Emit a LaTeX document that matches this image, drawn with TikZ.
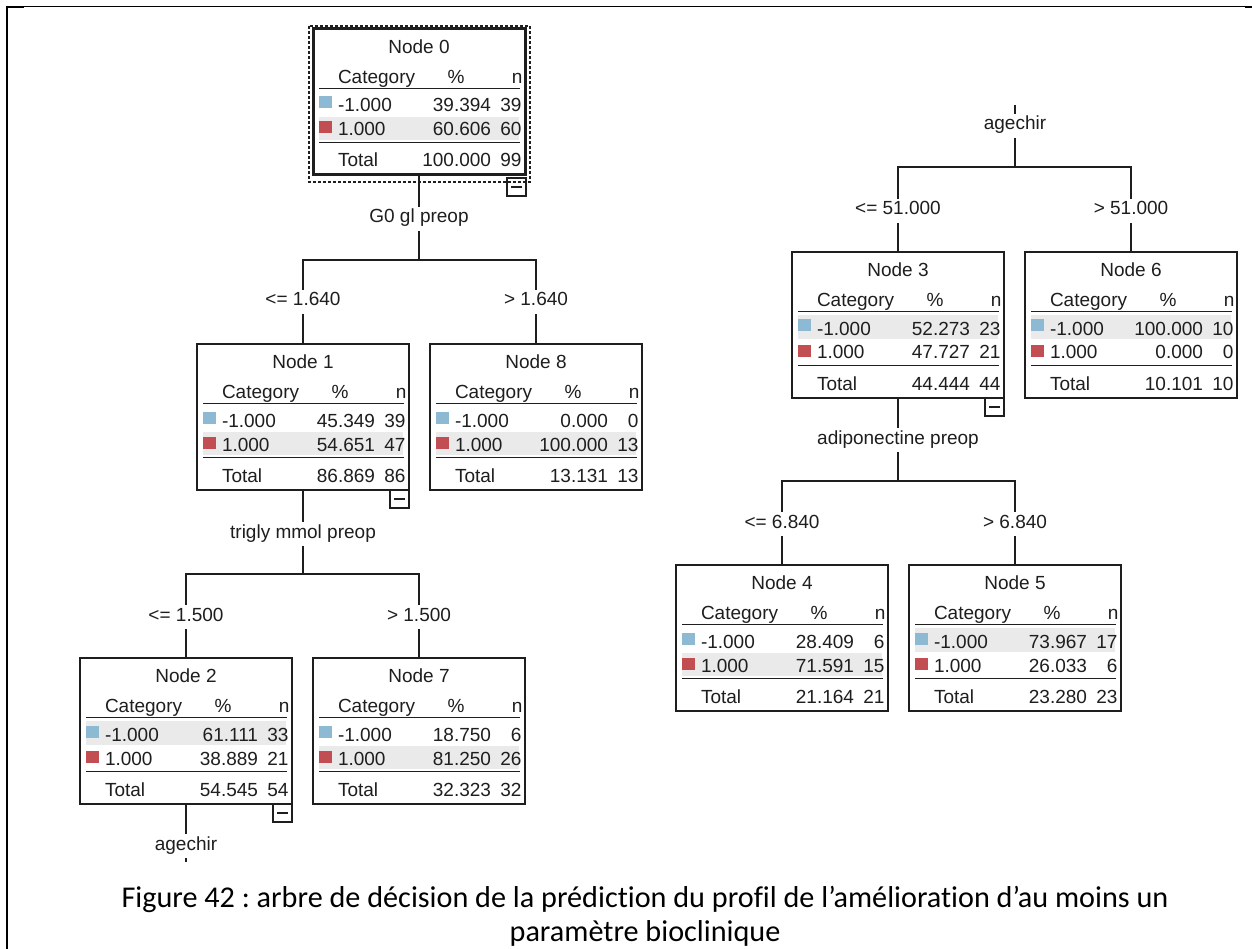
\documentclass[tikz,border=0pt]{standalone}
\usepackage{fontspec}
\setmainfont{Liberation Sans}
\newfontfamily\capfont[Ligatures={NoCommon}]{Carlito}
\usetikzlibrary{calc}
\frenchspacing
\definecolor{catblue}{RGB}{141,185,211}
\definecolor{catred}{RGB}{194,78,84}
\definecolor{rowgray}{RGB}{234,234,234}
\definecolor{ink}{RGB}{30,30,30}
\tikzset{
  treebox/.style={draw=ink, line width=1.3pt, minimum width=212pt, minimum height=146pt, inner sep=0pt, outer sep=0pt},
  rootbox/.style={treebox, line width=3pt},
  celltext/.style={inner sep=0pt, outer sep=0pt, text=ink, font=\fontsize{19}{21}\selectfont},
  brlabel/.style={fill=white, inner xsep=3pt, inner ysep=1pt, text height=15pt, text depth=7pt, anchor=base, text=ink, font=\fontsize{19}{21}\selectfont},
  conn/.style={draw=ink, line width=1.3pt},
  rulel/.style={draw=ink, line width=1.3pt},
  collapsebox/.style={draw=ink, line width=1.2pt},
  captext/.style={inner sep=0pt, anchor=base, text=black, font=\capfont\fontsize{30.2}{36}\selectfont}
}
\newcommand\treenode[6]{% name, left, top, number, shaded row, box style
  \def\tnname{#1}\def\tnx{#2}\def\tny{#3}\def\tnnum{#4}\def\tnsh{#5}\def\tnstyle{#6}\treenodeB}
\newcommand\treenodeB[6]{% v1 n1 v2 n2 tot ntot
  \ifnum\tnsh=1 \def\shtop{63}\def\shbot{87}\else\def\shtop{88}\def\shbot{111}\fi
  \begin{scope}[shift={(\tnx,\tny)}]
    \fill[rowgray] (6,\shtop) rectangle (206,\shbot);
    \node[\tnstyle] (\tnname) at (106,73) {};
    \node[celltext, anchor=base] (\tnname-title) at (106,24.5) {Node \tnnum};
    \node[celltext, anchor=base west] (\tnname-hc) at (25,54.5) {Category};
    \node[celltext, anchor=base] (\tnname-hp) at (143,54.5) {\%};
    \node[celltext, anchor=base east] (\tnname-hn) at (209.5,54.5) {n};
    \draw[rulel] (6,59.5) -- (207,59.5);
    \fill[catblue] (6,67.5) rectangle (18.5,79.5);
    \node[celltext, anchor=base west] (\tnname-c1) at (25,83) {-1.000};
    \node[celltext, anchor=base east] (\tnname-p1) at (178,83) {#1};
    \node[celltext, anchor=base east] (\tnname-n1) at (208.5,83) {#2};
    \fill[catred] (6,92.5) rectangle (18.5,104.5);
    \node[celltext, anchor=base west] (\tnname-c2) at (25,107) {1.000};
    \node[celltext, anchor=base east] (\tnname-p2) at (178,107) {#3};
    \node[celltext, anchor=base east] (\tnname-n2) at (208.5,107) {#4};
    \draw[rulel] (6,113.5) -- (207,113.5);
    \node[celltext, anchor=base west] (\tnname-ct) at (25,138) {Total};
    \node[celltext, anchor=base east] (\tnname-pt) at (178,138) {#5};
    \node[celltext, anchor=base east] (\tnname-nt) at (208.5,138) {#6};
  \end{scope}}
\newcommand\collapsemark[1]{%
  \draw[collapsebox] (#1.south east) ++(-19,0) rectangle ++(19,18);
  \draw[collapsebox] (#1.south east) ++(-15,9) -- ++(11,0);}
\begin{document}
\begin{tikzpicture}[x=1pt,y=-1pt]
\useasboundingbox (0,0) rectangle (1252,949);
\fill[white] (0,0) rectangle (1252,949);
% frame
\draw[black, line width=2pt] (7,6) -- (7,949);
\draw[black, line width=1.2pt] (7,6.5) -- (1252,6.5);
\draw[black, line width=2.4pt] (6,7) -- (24,7);
\draw[black, line width=2.4pt] (1245,7) -- (1252,7);

% connector end points
\coordinate (b0) at (419,260);
\coordinate (b1) at (303,574);
\coordinate (e2) at (186,862);
\coordinate (r0) at (1015,105);
\coordinate (b3) at (1015,167);
\coordinate (b4) at (898,481);

% nodes
\treenode{n0}{313}{29}{0}{2}{rootbox}{39.394}{39}{60.606}{60}{100.000}{99}
\treenode{n1}{197}{344}{1}{2}{treebox}{45.349}{39}{54.651}{47}{86.869}{86}
\treenode{n8}{430}{344}{8}{2}{treebox}{0.000}{0}{100.000}{13}{13.131}{13}
\treenode{n2}{80}{658}{2}{1}{treebox}{61.111}{33}{38.889}{21}{54.545}{54}
\treenode{n7}{313}{658}{7}{2}{treebox}{18.750}{6}{81.250}{26}{32.323}{32}
\treenode{n3}{792}{252}{3}{1}{treebox}{52.273}{23}{47.727}{21}{44.444}{44}
\treenode{n6}{1025}{252}{6}{1}{treebox}{100.000}{10}{0.000}{0}{10.101}{10}
\treenode{n4}{676}{565}{4}{2}{treebox}{28.409}{6}{71.591}{15}{21.164}{21}
\treenode{n5}{909}{565}{5}{1}{treebox}{73.967}{17}{26.033}{6}{23.280}{23}

% selection outline of root
\draw[ink, line width=1.2pt, dash pattern=on 3pt off 2pt] (309,26) rectangle (530,182);

\draw[conn] (n0.south) -- (b0);
\draw[conn] (n1.north) |- (b0) -| (n8.north);
\draw[conn] (n1.south) -- (b1);
\draw[conn] (n2.north) |- (b1) -| (n7.north);
\draw[conn] (n2.south) -- (e2);
\draw[conn] (r0) -- (b3);
\draw[conn] (n3.north) |- (b3) -| (n6.north);
\draw[conn] (n3.south) -- (b4);
\draw[conn] (n4.north) |- (b4) -| (n5.north);

% collapse marks
\draw[collapsebox] (507,178) rectangle (526,196);
\draw[collapsebox] (511,187) -- (522,187);
\collapsemark{n1}
\collapsemark{n2}
\collapsemark{n3}

% split labels
\node[brlabel] (l0) at (419,223) {G0 gl preop};
\node[brlabel] (l1) at (303,306) {<= 1.640};
\node[brlabel] (l8) at (536,306) {> 1.640};
\node[brlabel] (l1s) at (303,538) {trigly mmol preop};
\node[brlabel] (l2) at (186,621) {<= 1.500};
\node[brlabel] (l7) at (419,621) {> 1.500};
\node[brlabel] (l2s) at (186,850) {agechir};
\node[brlabel] (lr) at (1015,130) {agechir};
\node[brlabel] (l3) at (898,215) {<= 51.000};
\node[brlabel] (l6) at (1131,215) {> 51.000};
\node[brlabel] (l3s) at (898,444) {adiponectine preop};
\node[brlabel] (l4) at (782,528) {<= 6.840};
\node[brlabel] (l5) at (1015,528) {> 6.840};

% caption
\node[captext] (cap1) at (645,907) {Figure 42 : arbre de décision de la prédiction du profil de l’amélioration d’au moins un};
\node[captext] (cap2) at (645,941) {paramètre bioclinique};
\end{tikzpicture}
\end{document}
